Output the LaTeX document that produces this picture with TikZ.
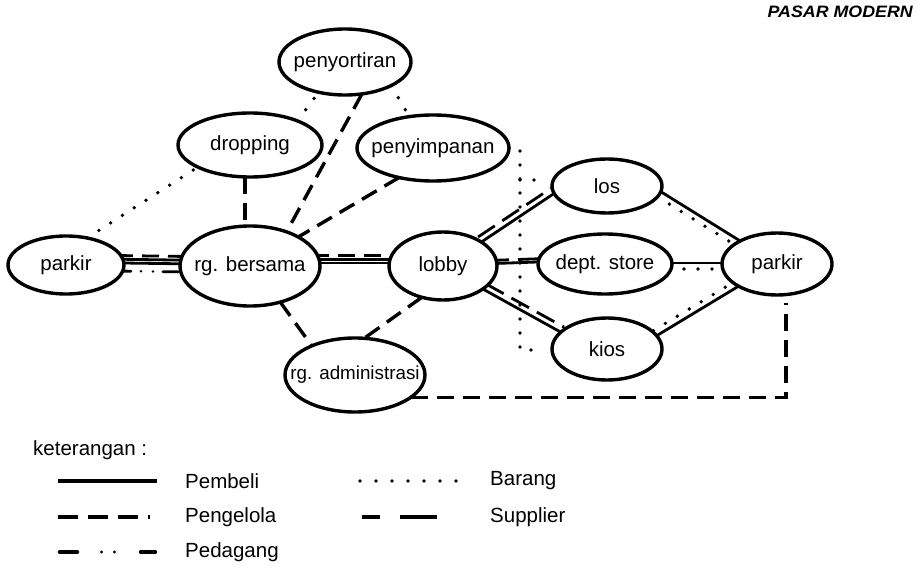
\documentclass[tikz,border=0pt]{standalone}
\usepackage{fontspec}
\setmainfont{Liberation Sans}
\usetikzlibrary{shapes.geometric,backgrounds}
\newcommand\zb[1]{\makebox[0pt]{#1}}
\begin{document}
\begin{tikzpicture}[x=1pt,y=-1pt,
  el/.style={draw, ellipse, fill=white, line width=3.4pt, inner sep=0pt, outer sep=0pt, font=\fontsize{20.5}{24}\selectfont},
  pembeli/.style={line width=2.8pt},
  pengelola/.style={line width=3.4pt, dash pattern=on 17pt off 9pt},
  supplier/.style={line width=2.8pt, dash pattern=on 20pt off 9pt},
  barang/.style={line width=3.8pt, line cap=round, dash pattern=on 0pt off 14pt},
  pedagang/.style={line width=2.8pt, line cap=round, dash pattern=on 15pt off 10pt on 0pt off 12pt on 0pt off 10pt},
  lab/.style={font=\fontsize{20.5}{24}\selectfont, anchor=west, inner sep=0pt}
]
\useasboundingbox (0,0) rectangle (918,572);

% title
\node[anchor=east, inner sep=0pt, font=\fontsize{16.5}{20}\selectfont\bfseries\itshape] (title) at (913,12) {\scalebox{1.08}[1]{PASAR MODERN}};

% nodes
\node[el, minimum width=132pt, minimum height=66pt] (pSort) at (345,62) {\zb{penyortiran}};
\node[el, minimum width=144pt, minimum height=64pt] (drop) at (250,145) {\zb{dropping}};
\node[el, minimum width=152pt, minimum height=66pt] (pSimp) at (433,148) {\zb{penyimpanan}};
\node[el, minimum width=116pt, minimum height=58pt] (pL) at (66,265) {\zb{parkir}};
\node[el, minimum width=140pt, minimum height=80pt] (bers) at (250,266) {\zb{rg. bersama}};
\node[el, minimum width=108pt, minimum height=68pt] (lobby) at (443,266) {\zb{lobby}};
\node[el, minimum width=110pt, minimum height=54pt] (los) at (607,186) {\zb{los}};
\node[el, minimum width=134pt, minimum height=60pt] (dept) at (605,264) {\zb{dept. store}};
\node[el, minimum width=110pt, minimum height=62pt] (pR) at (777,264) {\zb{parkir}};
\node[el, minimum width=110pt, minimum height=62pt] (kios) at (607,349) {\zb{kios}};
\node[el, minimum width=140pt, minimum height=74pt, font=\fontsize{18.8}{22}\selectfont] (adm) at (355,375) {\zb{rg. administrasi}};

\coordinate (pRb) at (786,303);
\coordinate (dTop) at (520,148);
\coordinate (dMid) at (520,180);
\coordinate (dLos) at (542,180);
\coordinate (dBot) at (520,350);
\coordinate (dKios) at (542,350);

\begin{pgfonlayer}{background}
% parkir L - rg. bersama
\draw[pengelola, line width=2.8pt] ([yshift=9.5pt,xshift=-8pt]pL.east) -- ([yshift=9.5pt,xshift=8pt]bers.west);
\draw[pembeli] ([yshift=5.8pt,xshift=-8pt]pL.east) -- ([yshift=5.8pt,xshift=8pt]bers.west);
\draw[pembeli] ([yshift=2.1pt,xshift=-8pt]pL.east) -- ([yshift=2.1pt,xshift=8pt]bers.west);
\draw[pedagang] ([yshift=-6pt,xshift=-8pt]pL.east) -- ([yshift=-6pt,xshift=8pt]bers.west);
% rg. bersama - lobby
\draw[pengelola, line width=2.8pt] ([yshift=10.5pt,xshift=-8pt]bers.east) -- ([yshift=10.5pt,xshift=8pt]lobby.west);
\draw[pembeli] ([yshift=6.8pt,xshift=-8pt]bers.east) -- ([yshift=6.8pt,xshift=8pt]lobby.west);
\draw[pembeli] ([yshift=3.1pt,xshift=-8pt]bers.east) -- ([yshift=3.1pt,xshift=8pt]lobby.west);
% lobby - dept
\draw[supplier] ([yshift=5.5pt,xshift=-8pt]lobby.east) -- ([yshift=5.5pt,xshift=8pt]dept.west);
\draw[pembeli] ([yshift=2.3pt,xshift=-8pt]lobby.east) -- ([yshift=2.3pt,xshift=8pt]dept.west);
% lobby - los / kios
\draw[pembeli] (lobby.32) -- (los.188);
\draw[supplier] ([xshift=-3.2pt,yshift=5.1pt]lobby.32) -- ([xshift=-3.2pt,yshift=5.1pt]los.188);
\draw[pembeli] (lobby.-30) -- (kios.160);
\draw[supplier] ([xshift=3.3pt,yshift=5pt]lobby.-30) -- ([xshift=3.3pt,yshift=5pt]kios.160);
% to parkir R
\draw[pembeli] (los.-6) -- (pR.148);
\draw[barang] ([xshift=-3.3pt,yshift=-5pt]los.-6) -- ([xshift=-3.3pt,yshift=-5pt]pR.148);
\draw[pembeli] ([yshift=1pt,xshift=-6pt]dept.east) -- ([yshift=1pt,xshift=6pt]pR.west);
\draw[barang] ([yshift=-5pt,xshift=-2pt]dept.east) -- ([yshift=-5pt,xshift=2pt]pR.west);
\draw[pembeli] (kios.15) -- (pR.210);
\draw[barang] ([xshift=-3.3pt,yshift=5pt]kios.15) -- ([xshift=-3.3pt,yshift=5pt]pR.210);
% upper links
\draw[pengelola, line width=4.2pt] ([xshift=-5pt]drop.south) -- ([xshift=-5pt]bers.north);
\draw[pengelola] (pSort.-62) -- (bers.43);
\draw[pengelola] (pSimp.-139) -- (bers.31);
\draw[pengelola] (bers.-50) -- (adm.146);
\draw[pengelola] (lobby.-124) -- (adm.76);
\draw[pengelola] (adm.-22) -| (pRb);
% barang dotted
\draw[barang] (pL.52) -- (drop.-157);
\draw[barang] (drop.27) -- (pSort.-131);
\draw[barang] (pSort.-27) -- (pSimp.127);
\draw[barang] (pSimp.east) -- (dTop) -- (dBot) -- (dKios);
\draw[barang] (dMid) -- (dLos);
\end{pgfonlayer}

% legend
\node[lab] (ket) at (33,450) {keterangan :};
\coordinate (l1a) at (58,481); \coordinate (l1b) at (157,481);
\coordinate (l2a) at (58,517); \coordinate (l2b) at (150,517);
\coordinate (l3a) at (58,552); \coordinate (l3b) at (157,552);
\coordinate (l4a) at (360,481); \coordinate (l4b) at (458,481);
\coordinate (l5a) at (362,517); \coordinate (l5b) at (437,517);
\draw[pembeli, line width=3.2pt] (l1a) -- (l1b);
\draw[line width=3.4pt, dash pattern=on 20pt off 10pt] (l2a) -- (l2b);
\draw[line width=3.4pt, line cap=round, dash pattern=on 18pt off 24pt on 0pt off 13pt on 0pt off 26pt on 18pt] ([xshift=1.5pt]l3a) -- ([xshift=-1.5pt]l3b);
\draw[barang, dash pattern=on 0pt off 16pt] (l4a) -- (l4b);
\draw[line width=3.4pt, dash pattern=on 18pt off 20pt on 40pt] (l5a) -- (l5b);
\node[lab] (tPembeli) at (185,481) {Pembeli};
\node[lab] (tPengelola) at (185,517) {Pengelola};
\node[lab] (tPedagang) at (185,552) {Pedagang};
\node[lab] (tBarang) at (490,481) {Barang};
\node[lab] (tSupplier) at (490,517) {Supplier};
\end{tikzpicture}
\end{document}
